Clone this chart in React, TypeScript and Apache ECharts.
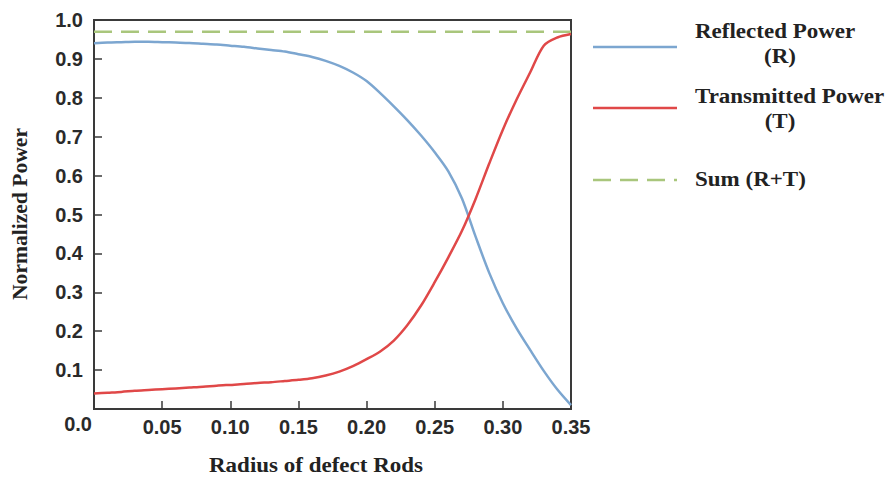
import React, { useEffect, useRef } from "react";
import * as echarts from "echarts";

// Radius of defect rods (x positions, step 0.01)
const radius = [0, 0.01, 0.02, 0.03, 0.04, 0.05, 0.06, 0.07, 0.08, 0.09, 0.10, 0.11, 0.12, 0.13, 0.14, 0.15, 0.16, 0.17, 0.18, 0.19, 0.20, 0.21, 0.22, 0.23, 0.24, 0.25, 0.26, 0.27, 0.28, 0.29, 0.30, 0.31, 0.32, 0.33, 0.34, 0.35];

// Reflected power (R)
const reflected = [0.940, 0.942, 0.943, 0.944, 0.944, 0.943, 0.942, 0.941, 0.939, 0.937, 0.934, 0.931, 0.927, 0.923, 0.919, 0.912, 0.905, 0.895, 0.882, 0.865, 0.843, 0.812, 0.778, 0.742, 0.703, 0.660, 0.611, 0.541, 0.443, 0.350, 0.272, 0.208, 0.152, 0.098, 0.050, 0.010];

// Transmitted power (T)
const transmitted = [0.040, 0.042, 0.044, 0.047, 0.049, 0.051, 0.053, 0.055, 0.057, 0.060, 0.062, 0.064, 0.067, 0.069, 0.072, 0.075, 0.079, 0.086, 0.096, 0.110, 0.128, 0.148, 0.176, 0.216, 0.266, 0.326, 0.390, 0.458, 0.540, 0.631, 0.718, 0.795, 0.865, 0.934, 0.955, 0.964];

// Sum (R+T)
const sumX = [0, 0.35];
const sumY = [0.97, 0.97];

const xTicks = { min: 0, max: 0.35, interval: 0.05 };
const yTicks = { min: 0, max: 1.0, interval: 0.1 };

const legendNames = ["Reflected Power", "(R)", "Transmitted Power", "(T)", "Sum (R+T)"];
const xTitle = "Radius of defect Rods";
const yTitle = "Normalized Power";
const originLabel = "0.0";

const BLUE = "#7ca6d0";
const RED = "#e04848";
const GREEN = "#a9c67c";
const TXT = "#222222";

const pair = (xs: number[], ys: number[]) => xs.map((x, i) => [x, ys[i]]);

export default function App() {
  const ref = useRef<HTMLDivElement>(null);
  useEffect(() => {
    if (!ref.current) return;
    const chart = echarts.init(ref.current, null, { renderer: "svg" });
    const tickFont = { fontSize: 20, fontWeight: "bold" as const, fontFamily: "Liberation Sans", color: "#2a2a2a" };
    const serif = (text: string, x: number, y: number, align = "left", extra: any = {}) => ({
      type: "text",
      x,
      y,
      scaleX: 1.15,
      ...extra,
      style: {
        text,
        fontSize: 20,
        fontWeight: "bold",
        fontFamily: "Liberation Serif",
        fill: TXT,
        textAlign: align,
        align,
        textVerticalAlign: "middle",
        verticalAlign: "middle",
      },
    });
    chart.setOption({
      animation: false,
      backgroundColor: "#ffffff",
      grid: {
        left: 94,
        top: 20,
        width: 477,
        height: 389,
        show: true,
        borderColor: "#3a3a3a",
        borderWidth: 2,
        backgroundColor: "#ffffff",
      },
      xAxis: {
        type: "value",
        min: xTicks.min,
        max: xTicks.max,
        interval: xTicks.interval,
        axisLine: { show: false },
        axisTick: { show: true, inside: true, length: 8, lineStyle: { color: "#3a3a3a", width: 1.5 } },
        splitLine: { show: false },
        axisLabel: {
          ...tickFont,
          margin: 8,
          showMinLabel: false,
          formatter: (v: number) => (v === 0 ? "" : v.toFixed(2)),
        },
      },
      yAxis: {
        type: "value",
        min: yTicks.min,
        max: yTicks.max,
        interval: yTicks.interval,
        axisLine: { show: false },
        axisTick: { show: true, inside: true, length: 8, lineStyle: { color: "#3a3a3a", width: 1.5 } },
        splitLine: { show: false },
        axisLabel: {
          ...tickFont,
          margin: 11,
          showMinLabel: false,
          formatter: (v: number) => (v === 0 ? "" : v.toFixed(1)),
        },
      },
      series: [
        {
          type: "line",
          name: "R",
          data: pair(radius, reflected),
          smooth: 0.3,
          showSymbol: false,
          lineStyle: { color: BLUE, width: 2.5 },
          z: 3,
        },
        {
          type: "line",
          name: "T",
          data: pair(radius, transmitted),
          smooth: 0.3,
          showSymbol: false,
          lineStyle: { color: RED, width: 2.5 },
          z: 4,
        },
        {
          type: "line",
          name: "Sum",
          data: pair(sumX, sumY),
          showSymbol: false,
          lineStyle: { color: GREEN, width: 2.5, type: [18, 9] },
          z: 2,
        },
      ],
      graphic: [
        { type: "line", shape: { x1: 593, y1: 47, x2: 677, y2: 47 }, style: { stroke: BLUE, lineWidth: 2.5 } },
        { type: "line", shape: { x1: 593, y1: 108, x2: 677, y2: 108 }, style: { stroke: RED, lineWidth: 2.5 } },
        { type: "line", shape: { x1: 593, y1: 180, x2: 677, y2: 180 }, style: { stroke: GREEN, lineWidth: 2.5, lineDash: [18, 9] } },
        serif(legendNames[0], 695, 32),
        serif(legendNames[1], 780, 57, "center"),
        serif(legendNames[2], 695, 97),
        serif(legendNames[3], 780, 122, "center"),
        serif(legendNames[4], 695, 180),
        serif(xTitle, 316, 466, "center"),
        serif(yTitle, 20, 214, "center", { rotation: Math.PI / 2, scaleX: 1.08 }),
        {
          type: "text",
          x: 92,
          y: 424,
          style: {
            text: originLabel,
            fontSize: 20,
            fontWeight: "bold",
            fontFamily: "Liberation Sans",
            fill: "#2a2a2a",
            textAlign: "right",
            align: "right",
            textVerticalAlign: "middle",
            verticalAlign: "middle",
          },
        },
      ],
    });
    return () => chart.dispose();
  }, []);
  return <div ref={ref} style={{ width: 888, height: 480, position: "absolute", left: 0, top: 0 }} />;
}
